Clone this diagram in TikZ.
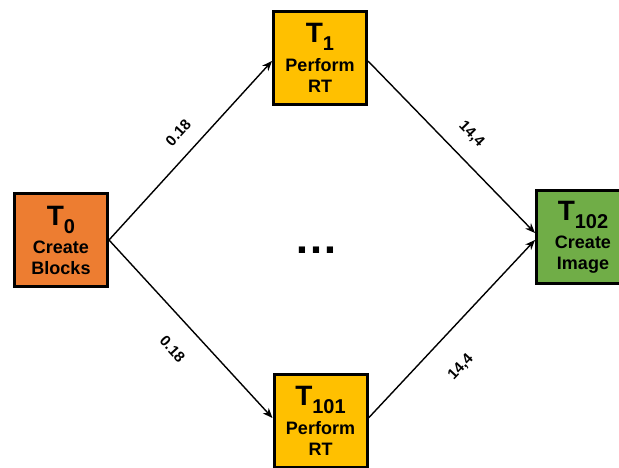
\documentclass[tikz,border=0pt]{standalone}
\usepackage{fontspec}
\setmainfont{Liberation Sans}
\definecolor{taskorange}{HTML}{ED7D31}
\definecolor{taskgold}{HTML}{FFC000}
\definecolor{taskgreen}{HTML}{70AD47}
\usetikzlibrary{arrows.meta}
\newcommand{\tname}[1]{{\fontsize{28}{28}\selectfont T\raisebox{-8pt}{\fontsize{20}{20}\selectfont #1}}}

\begin{document}
\begin{tikzpicture}[x=1pt, y=1pt,
      box/.style={draw=black, line width=3pt, minimum size=93pt,
                  inner sep=0pt, align=center,
                  font=\bfseries\fontsize{18}{21}\selectfont},
      lbl/.style={font=\bfseries\fontsize{15}{15}\selectfont, sloped, inner sep=2pt},
      arr/.style={-{Stealth[length=10pt, width=8pt]}, line width=1.4pt}
    ]
      \useasboundingbox (0,0) rectangle (619,467);
      \clip (0,0) rectangle (619,467);

      \node[box, fill=taskorange] (t0) at (61,227) {\tname{0}\\[7pt]Create\\Blocks};
      \node[box, fill=taskgold] (t1) at (320,409) {\tname{1}\\[7pt]Perform\\RT};
      \node[box, fill=taskgold] (t101) at (320.5,46) {\tname{101}\\[7pt]Perform\\RT};
      \node[box, fill=taskgreen] (t102) at (583,230) {\tname{102}\\[7pt]Create\\Image};

      \node[font=\bfseries\fontsize{44}{44}\selectfont] (dots) at (316,217) {…};

      \draw[arr] (t0.east) -- node[lbl, above=13pt, pos=0.52] {0.18} ([yshift=-3pt]t1.west);
      \draw[arr] (t0.east) -- node[lbl, below=19pt, pos=0.51] {0.18} ([yshift=3pt]t101.west);
      \draw[arr] ([yshift=-3pt]t1.east) -- node[lbl, above=14pt, pos=0.52] {14,4} ([yshift=4pt]t102.west);
      \draw[arr] ([yshift=3pt]t101.east) -- node[lbl, below=24pt, pos=0.41] {14,4} ([yshift=-3pt]t102.west);
    \end{tikzpicture}
\end{document}
